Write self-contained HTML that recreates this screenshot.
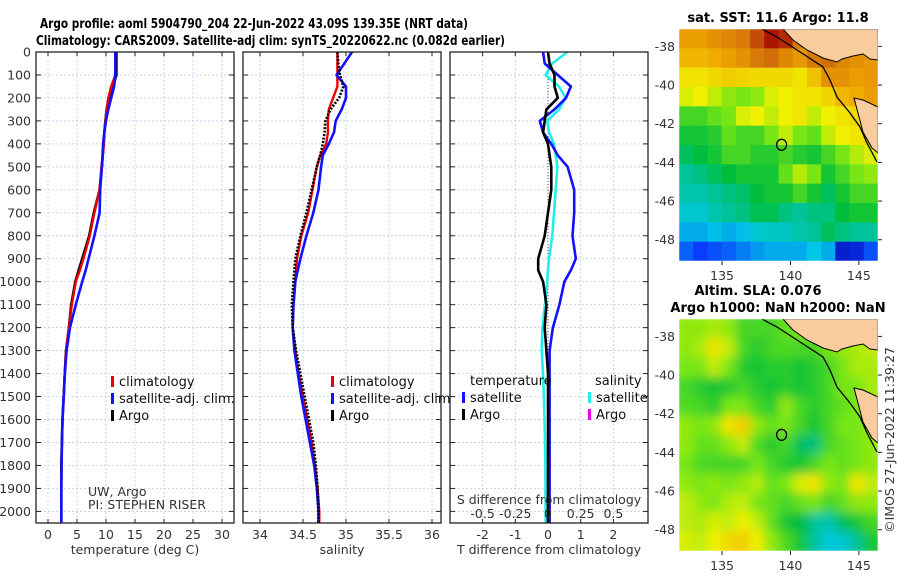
<!DOCTYPE html>
<html><head><meta charset="utf-8">
<style>
html,body{margin:0;padding:0;background:#fff;}
svg{display:block;font-family:"DejaVu Sans","Liberation Sans",sans-serif;}
.tk{font-size:12.5px;fill:#333;}
.lg{font-size:13px;fill:#111;}
.ttl{font-size:13px;font-weight:bold;fill:#000;}
</style></head>
<body>
<svg id="fig" width="900" height="580" viewBox="0 0 900 580" xmlns="http://www.w3.org/2000/svg">
<text class="ttl" x="40" y="28" textLength="428" lengthAdjust="spacingAndGlyphs">Argo profile: aoml 5904790_204 22-Jun-2022 43.09S 139.35E (NRT data)</text>
<text class="ttl" x="36" y="45" textLength="469" lengthAdjust="spacingAndGlyphs">Climatology: CARS2009. Satellite-adj clim: synTS_20220622.nc (0.082d earlier)</text>
<g id="panels"></g>
<g id="maps"></g>
<text class="tk" transform="translate(894,440) rotate(-90)" text-anchor="middle" font-size="13">©IMOS 27-Jun-2022 11:39:27</text>
</svg>
<script>
// ---------- DATA ----------
const depths = [0,50,100,150,200,250,300,350,400,450,500,600,700,800,900,950,1000,1100,1200,1300,1400,1500,1600,1700,1800,1900,2000,2050];
const tempArgo = [11.8,11.8,11.8,11.2,10.5,10.1,9.9,9.7,9.6,9.45,9.3,8.9,7.9,7.1,5.9,5.3,4.7,4.0,3.6,3.1,2.9,2.7,2.5,2.4,2.3,2.3,2.3,2.3];
const tempClim = [11.6,11.6,11.6,10.9,10.4,10.1,9.9,9.7,9.6,9.45,9.2,8.9,8.0,7.2,6.1,5.5,4.8,4.1,3.6,3.1,2.9,2.7,2.5,2.4,2.35,2.3,2.3,2.3];
const tempSat = [11.6,11.6,11.6,11.4,10.9,10.4,10.0,9.7,9.5,9.4,9.3,9.0,8.9,8.0,7.0,6.5,5.9,4.8,3.8,3.2,2.9,2.7,2.5,2.4,2.35,2.3,2.3,2.3];
const salArgo = [34.90,34.91,34.93,34.97,34.92,34.82,34.76,34.75,34.73,34.70,34.66,34.60,34.54,34.47,34.41,34.40,34.39,34.37,34.38,34.42,34.47,34.52,34.57,34.62,34.65,34.67,34.68,34.68];
const salClim = [34.90,34.90,34.90,34.90,34.85,34.80,34.79,34.79,34.77,34.70,34.66,34.61,34.56,34.48,34.43,34.42,34.41,34.39,34.38,34.41,34.45,34.50,34.55,34.60,34.64,34.67,34.69,34.69];
const salSat = [35.07,34.98,34.89,35.00,35.00,34.95,34.88,34.86,34.80,34.73,34.71,34.68,34.62,34.54,34.47,34.44,34.41,34.39,34.38,34.40,34.44,34.48,34.53,34.58,34.63,34.66,34.68,34.68];
const dTArgo = [0,0.05,0.2,0.2,0.3,-0.05,-0.1,-0.15,0,0.05,0.1,0.1,0,-0.1,-0.3,-0.3,-0.15,-0.05,-0.1,-0.05,0,0,0,0,0,0,0,0];
const dTSat = [-0.15,-0.1,0.3,0.7,0.55,0.2,-0.25,-0.15,0.1,0.3,0.6,0.8,0.8,0.75,0.85,0.7,0.5,0.35,0.15,0.05,0.05,0.05,0.05,0.05,0.05,0.05,0.05,0.05];
const dSSat = [0.148,0.033,-0.018,0.084,0.135,0.084,-0.005,0.008,0.046,0.06,0.071,0.059,0.046,0.033,0.008,0.0,-0.005,-0.023,-0.043,-0.048,-0.038,-0.031,-0.027,-0.023,-0.02,-0.019,-0.018,-0.018];
const depthTicks = [0,100,200,300,400,500,600,700,800,900,1000,1100,1200,1300,1400,1500,1600,1700,1800,1900,2000];
const tempTicks = [0,5,10,15,20,25,30];
const salTicks = [34,34.5,35,35.5,36];
const salTickLabels = ["34","34.5","35","35.5","36"];
const dTTicks = [-2,-1,0,1,2];
const dSTicks = [-0.5,-0.25,0,0.25,0.5];
const dSTickLabels = ["-0.5","-0.25","0","0.25","0.5"];
const sstGrid = [
[.84,.84,.86,.88,.9,.95,1,.98,.9,.88,.86,.85,.85,.85],
[.8,.8,.82,.84,.86,.9,.92,.88,.85,.9,.92,.88,.86,.85],
[.72,.72,.74,.76,.75,.74,.74,.74,.72,.78,.86,.86,.84,.85],
[.68,.7,.66,.62,.6,.62,.68,.7,.72,.72,.75,.8,.82,.84],
[.55,.55,.58,.6,.68,.7,.66,.7,.72,.66,.7,.72,.74,.76],
[.5,.5,.52,.58,.55,.55,.6,.66,.6,.58,.66,.7,.72,.74],
[.45,.48,.5,.55,.55,.52,.52,.55,.52,.5,.55,.6,.65,.68],
[.4,.42,.45,.48,.5,.5,.5,.58,.65,.6,.5,.55,.6,.62],
[.38,.38,.4,.42,.44,.48,.5,.5,.55,.5,.45,.5,.55,.55],
[.35,.35,.38,.4,.42,.46,.46,.42,.4,.42,.42,.48,.5,.5],
[.3,.3,.32,.3,.32,.35,.36,.36,.38,.4,.45,.42,.4,.4],
[.22,.18,.2,.22,.25,.28,.3,.3,.3,.33,.3,.1,.12,.2]];
const slaGrid = [
[.62,.62,.64,.62,.55,.55,.55,.58,.6,.62,.66,.66,.66,.66],
[.62,.64,.72,.66,.55,.52,.55,.56,.55,.55,.6,.62,.64,.66],
[.6,.6,.66,.6,.52,.5,.52,.52,.5,.52,.55,.6,.64,.64],
[.55,.52,.5,.52,.55,.52,.5,.52,.5,.52,.55,.6,.6,.64],
[.56,.55,.52,.6,.6,.55,.52,.62,.55,.52,.55,.58,.6,.62],
[.62,.6,.62,.72,.76,.62,.58,.6,.55,.5,.55,.6,.6,.62],
[.62,.58,.58,.62,.66,.56,.52,.55,.45,.42,.55,.58,.6,.62],
[.6,.56,.55,.55,.55,.6,.55,.52,.5,.55,.6,.58,.6,.62],
[.62,.6,.62,.6,.62,.65,.58,.6,.68,.72,.62,.6,.72,.66],
[.66,.62,.6,.65,.66,.6,.58,.55,.58,.6,.55,.58,.62,.62],
[.66,.64,.68,.66,.7,.66,.58,.5,.48,.4,.38,.45,.5,.55],
[.68,.66,.7,.74,.76,.7,.62,.56,.5,.4,.34,.35,.4,.5]];
const latTicks = [-38,-40,-42,-44,-46,-48];
const lonTicks = [135,140,145];
const argoLon = 139.35, argoLat = -43.09;

// ---------- HELPERS ----------
const NS="http://www.w3.org/2000/svg";
function mk(tag, attrs, parent){const e=document.createElementNS(NS,tag);for(const k in attrs)e.setAttribute(k,attrs[k]);parent.appendChild(e);return e;}
const panels=document.getElementById('panels');
const yD = d => 52 + d*0.2297;
const PT=52, PB=523;
function txt(parent,x,y,s,cls,anchor){const t=mk('text',{x:x,y:y,class:cls,'text-anchor':anchor||'start'},parent);t.textContent=s;return t;}

function drawPanel(name,x0,x1,xf,ticks,labels,xlabel){
  const g=mk('g',{},panels);
  
  
  mk('rect',{x:x0,y:PT,width:x1-x0,height:PB-PT,fill:'#fff'},g);
  ticks.forEach(v=>{const x=xf(v);
    const l=mk('line',{x1:x,x2:x,y1:PT,y2:PB,stroke:'#b8c4e6','stroke-width':0.7,'stroke-dasharray':'2,2'},g);
    
    
    mk('line',{x1:x,x2:x,y1:PB,y2:PB-4,stroke:'#222'},g);mk('line',{x1:x,x2:x,y1:PT,y2:PT+4,stroke:'#222'},g);});
  depthTicks.forEach(d=>{const y=yD(d);
    const l=mk('line',{x1:x0,x2:x1,y1:y,y2:y,stroke:'#b8c4e6','stroke-width':0.7,'stroke-dasharray':'2,2'},g);
    
    
    mk('line',{x1:x0,x2:x0+5,y1:y,y2:y,stroke:'#222'},g);mk('line',{x1:x1,x2:x1-5,y1:y,y2:y,stroke:'#222'},g);});
  if(labels){ticks.forEach((v,i)=>{const t=txt(g,xf(v),539,labels[i],'tk','middle');
    
    });}
  const xl=txt(g,(x0+x1)/2,554,xlabel,'tk','middle');xl.setAttribute('font-size','13.5');
  
  
  return g;
}
function frame(g,x0,x1){mk('rect',{x:x0,y:PT,width:x1-x0,height:PB-PT,fill:'none',stroke:'#222','stroke-width':1.3},g);}
function line(g,vals,xf,color,w,dash,name){
  const pts=vals.map((v,i)=>xf(v).toFixed(1)+','+yD(depths[i]).toFixed(1)).join(' ');
  const p=mk('polyline',{points:pts,fill:'none',stroke:color,'stroke-width':w,'stroke-linejoin':'round'},g);
  if(dash)p.setAttribute('stroke-dasharray',dash);
  
  
}
function legend(g,x,y,items){items.forEach((it,i)=>{
  const r=mk('rect',{x:x,y:y+i*17-10,width:3,height:11,fill:it[0]},g);
  
  
  const t=txt(g,x+8,y+i*17,it[1],'lg');
  
  });}

// Panel 1: temperature
const xT=t=>48+t*5.8;
const g1=drawPanel('temperature',36,234,xT,tempTicks,tempTicks.map(String),'temperature (deg C)');
depthTicks.forEach(d=>{const t=txt(g1,31,yD(d)+4.5,String(d),'tk','end');
  
  });
line(g1,tempArgo,xT,'#000',2.6,null,'temp-argo-line');
line(g1,tempClim,xT,'#e00',2.4,null,'temp-climatology-line');
line(g1,tempSat,xT,'#11f',2.6,null,'temp-satellite-line');
frame(g1,36,234);
legend(g1,111,386,[['#e00','climatology'],['#11f','satellite-adj. clim.'],['#000','Argo']]);
txt(g1,88,496,'UW, Argo','tk').setAttribute('font-size','11');
txt(g1,88,509,'PI: STEPHEN RISER','tk').setAttribute('font-size','11');

// Panel 2: salinity
const xS=s=>260+(s-34)*86;
const g2=drawPanel('salinity',243,441,xS,salTicks,salTickLabels,'salinity');
line(g2,salClim,xS,'#e00',2.4,null,'sal-climatology-line');
line(g2,salSat,xS,'#11f',2.6,null,'sal-satellite-line');
line(g2,salArgo,xS,'#000',2.6,'2,1.5','sal-argo-line');
frame(g2,243,441);
legend(g2,331,386,[['#e00','climatology'],['#11f','satellite-adj. clim.'],['#000','Argo']]);

// Panel 3: differences
const xDT=t=>548+t*32.7, xDS=s=>548+s*130.8;
const g3=drawPanel('difference',450,648,xDT,dTTicks,dTTicks.map(String),'T difference from climatology');
mk('line',{x1:xDT(0),x2:xDT(0),y1:PT,y2:PB,stroke:'#555','stroke-dasharray':'1,2'},g3);
line(g3,dSSat,xDS,'#2ee',2.6,null,'sal-diff-satellite-line');
line(g3,dTSat,xDT,'#11f',2.6,null,'temp-diff-satellite-line');
line(g3,dTArgo,xDT,'#000',2.6,null,'temp-diff-argo-line');
frame(g3,450,648);
txt(g3,470,385,'temperature','lg');
txt(g3,595,385,'salinity','lg');
legend(g3,462,402,[['#11f','satellite'],['#000','Argo']]);
legend(g3,588,402,[['#2ee','satellite'],['#e0e','Argo']]);
txt(g3,549,504,'S difference from climatology','tk','middle').setAttribute('font-size','13.5');
dSTicks.forEach((v,i)=>{const t=txt(g3,xDS(v),518,dSTickLabels[i],'tk','middle');
  
  });

// ---------- MAPS ----------
const maps=document.getElementById('maps');
const MX0=679, MX1=878, LON0=131.85, LON1=146.4, LAT0=-37.1, LAT1=-49.1;
const lonX=l=>MX0+(l-LON0)/(LON1-LON0)*(MX1-MX0);
const stops=[[0,[0,0,140]],[0.18,[10,60,255]],[0.33,[0,200,230]],[0.48,[0,190,60]],[0.6,[120,230,20]],[0.7,[240,240,0]],[0.82,[240,170,0]],[0.92,[210,110,10]],[1,[170,20,0]]];
function cmap(v){for(let i=1;i<stops.length;i++){if(v<=stops[i][0]){const a=stops[i-1],b=stops[i],f=(v-a[0])/(b[0]-a[0]);
  return 'rgb('+a[1].map((c,k)=>Math.round(c+(b[1][k]-c)*f)).join(',')+')';}}return 'rgb(170,20,0)';}
const land1=[[783,29],[793,40],[807,50],[823,58],[837,62],[842,59],[853,56],[863,54],[870,59],[878,60],[878,29]];
const land2=[[854,98],[863,100],[878,107],[878,153],[872,148],[863,132],[858,113]];
const iso=[[762,29],[777,37],[797,50],[823,67],[830,80],[837,97],[850,113],[860,127],[867,143],[877,162]];
function drawMap(name,top,grid,blur){
  const g=mk('g',{},maps);
  
  
  const H=232, latY=l=>top+(l-LAT0)/(LAT1-LAT0)*H;
  const cid='clip'+top;
  const cp=mk('clipPath',{id:cid},g);mk('rect',{x:MX0,y:top,width:MX1-MX0,height:H},cp);
  const cg=mk('g',{'clip-path':'url(#'+cid+')'},g);
  const inner=mk('g',{},cg);
  if(blur){const f=mk('filter',{id:'bl'+top,x:'-10%',y:'-10%',width:'120%',height:'120%'},g);mk('feGaussianBlur',{stdDeviation:5},f);inner.setAttribute('filter','url(#bl'+top+')');}
  const nr=grid.length,nc=grid[0].length,cw=(MX1-MX0)/nc,ch=H/nr;
  grid.forEach((row,r)=>row.forEach((v,c)=>{const e=mk('rect',{x:MX0+c*cw-(blur?6:0),y:top+r*ch-(blur?6:0),width:cw+(blur?12:0.5),height:ch+(blur?12:0.5),fill:cmap(v)},inner);
    if(blur){if(c>0)e.setAttribute('x',MX0+c*cw);if(r>0)e.setAttribute('y',top+r*ch);e.setAttribute('width',cw+(c==0||c==nc-1?6.5:0.5));e.setAttribute('height',ch+(r==0||r==nr-1?6.5:0.5));}}));
  const dy=top-29;
  [land1,land2].forEach(L=>{const p=mk('polygon',{points:L.map(q=>q[0]+','+(q[1]+dy)).join(' '),fill:'#f9cc9e',stroke:'#000','stroke-width':1},cg);
    
    });
  mk('polyline',{points:iso.map(q=>q[0]+','+(q[1]+dy)).join(' '),fill:'none',stroke:'#000','stroke-width':1.3},cg);
  const c=mk('ellipse',{cx:lonX(argoLon),cy:latY(argoLat),rx:5,ry:5.5,fill:'none',stroke:'#000','stroke-width':1.3},g);
  
  
  mk('rect',{x:MX0,y:top,width:MX1-MX0,height:H,fill:'none',stroke:'#fff','stroke-width':0.5},g);
  latTicks.forEach(l=>{const y=latY(l);mk('line',{x1:MX1,x2:MX1+4,y1:y,y2:y,stroke:'#222'},g);
    const t=txt(g,675,y+4.5,String(l),'tk','end');
    
    });
  lonTicks.forEach(l=>{const x=lonX(l);mk('line',{x1:x,x2:x,y1:top+H,y2:top+H+4,stroke:'#222'},g);
    const t=txt(g,x,top+H+19,String(l),'tk','middle');
    
    });
}
drawMap('sst-map',29,sstGrid,false);
drawMap('sla-map',319,slaGrid,true);
const mt=[['sat. SST: 11.6 Argo: 11.8',778,22,'sst-map-title'],['Altim. SLA: 0.076',758,295,'sla-map-title'],['Argo h1000: NaN h2000: NaN',778,312,'sla-map-subtitle']];
mt.forEach(m=>{const t=txt(maps,m[1],m[2],m[0],'ttl','middle');
  
  });
</script>
</body></html>
